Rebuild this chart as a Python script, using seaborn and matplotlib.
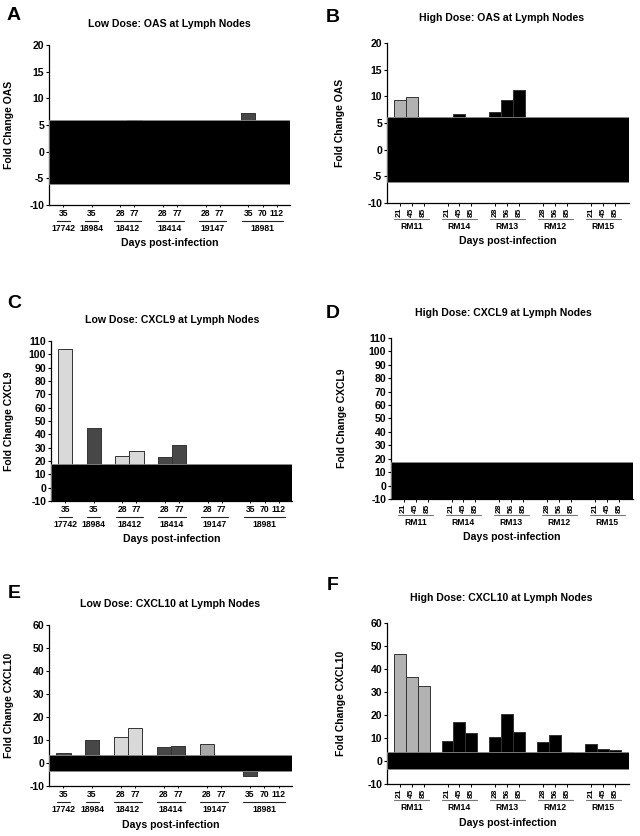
import pandas as pd
import matplotlib
matplotlib.use("Agg")
import matplotlib.pyplot as plt
import matplotlib.transforms as mtransforms
import seaborn as sns

sns.set_theme(style="ticks")
plt.rcParams["font.family"] = ["Liberation Sans", "DejaVu Sans"]
plt.rcParams["font.weight"] = "bold"
for k in ["text.color", "axes.labelcolor", "xtick.color", "ytick.color", "axes.edgecolor"]:
    plt.rcParams[k] = "black"

# animals and sampling days
low_animals = ["17742", "18984", "18412", "18414", "19147", "18981"]
low_days = [["35"], ["35"], ["28", "77"], ["28", "77"], ["28", "77"], ["35", "70", "112"]]
high_animals = ["RM11", "RM14", "RM13", "RM12", "RM15"]
high_days = [["21", "45", "85"], ["21", "45", "85"], ["28", "56", "85"],
             ["28", "56", "85"], ["21", "45", "85"]]

# fold change values (bars under the black band are not readable, rough guesses)
oas_low = [[3.0], [2.5], [5.5, 6.0], [4.0, 3.5], [2.0, 3.0], [7.3, 4.0, 2.5]]
oas_high = [[9.4, 9.9, 4.5], [5.0, 6.7, 4.0], [7.0, 9.4, 11.1], [3.0, 2.5, 2.0], [2.0, 3.0, 2.5]]
cxcl9_low = [[103.8], [44.5], [23.7, 27.7], [22.7, 32.3], [5.0, 4.0], [3.0, 2.0, 2.0]]
cxcl9_high = [[8.0, 6.0, 5.0], [4.0, 5.0, 3.0], [6.0, 7.0, 4.0], [3.0, 4.0, 2.0], [2.0, 3.0, 2.0]]
cxcl10_low = [[4.2], [10.0], [11.2, 15.1], [7.1, 7.4], [8.3, 2.0], [-5.6, 1.5, 1.0]]
cxcl10_high = [[46.4, 36.4, 32.4], [8.9, 16.8, 12.0], [10.3, 20.3, 12.5],
               [8.4, 11.2, 3.9], [7.3, 5.4, 4.6]]

# "no change" band drawn over the bars
oas_low_band = (-6.0, 6.0)
oas_high_band = (-6.1, 6.2)
cxcl9_band = (-10, 17.7)
cxcl10_low_band = (-3.6, 3.6)
cxcl10_high_band = (-3.6, 3.7)

dark, light, mid = "#474747", "#d9d9d9", "#a9a9a9"
pal_oas_low = {"17742": dark, "18984": dark, "18412": light, "18414": dark, "19147": mid, "18981": dark}
pal_cxcl9_low = {"17742": light, "18984": dark, "18412": light, "18414": dark, "19147": mid, "18981": dark}
pal_cxcl10_low = pal_oas_low
pal_high = {"RM11": "#b2b2b2", "RM14": "black", "RM13": "black", "RM12": "black", "RM15": "black"}

W, H = 640, 836
fig = plt.figure(figsize=(W / 100, H / 100), dpi=100)


def px(x, y):
    return x / W, 1 - y / H


def make_df(animals, days, values):
    rows = []
    order = []
    for i, (a, ds, vs) in enumerate(zip(animals, days, values)):
        for d, v in zip(ds, vs):
            rows.append({"slot": a + "|" + d, "animal": a, "day": d, "value": v})
            order.append(a + "|" + d)
        if i < len(animals) - 1:
            order.append("gap%d" % i)
    return pd.DataFrame(rows), order


def panel(rect, animals, days, values, pal, band, ylim, ystep, ylabel, ylab_px, high):
    l, t, r, b = rect
    ax = fig.add_axes([l / W, 1 - b / H, (r - l) / W, (b - t) / H])
    df, order = make_df(animals, days, values)
    sns.barplot(data=df, x="slot", y="value", hue="animal", order=order, hue_order=animals,
                palette=pal, dodge=False, width=1.0, errorbar=None, edgecolor="#333333",
                linewidth=0.7, legend=False, ax=ax)
    ax.axhspan(band[0], band[1], facecolor="black", edgecolor="#8a8a8a", lw=0.6, zorder=3)

    pos = [order.index(s) for s in df["slot"]]
    ax.set_xticks(pos)
    if high:
        ax.set_xticklabels(df["day"], rotation=90, fontsize=6.0, fontweight="bold")
        ax.tick_params(axis="x", length=2.5, width=0.7, pad=1)
        ax.set_xlim(-1.05, len(order) + 0.15)
        line_col = "#777777"
    else:
        ax.set_xticklabels(df["day"], fontsize=6.2, fontweight="bold")
        ax.tick_params(axis="x", length=1.5, width=0.7, pad=1.5)
        ax.set_xlim(-1.0, len(order) - 0.07)
        line_col = "#222222"
    ax.set_xlabel("")

    ax.set_ylim(*ylim)
    ax.set_yticks(range(ylim[0], ylim[1] + 1, ystep))
    ax.set_yticklabels([str(v) for v in range(ylim[0], ylim[1] + 1, ystep)],
                       fontsize=7.6, fontweight="bold")
    ax.tick_params(axis="y", length=2.5, width=0.8, pad=1)
    ax.set_ylabel(ylabel, fontsize=7.5, fontweight="bold")
    ax.yaxis.set_label_coords(-ylab_px / (r - l), 0.5)

    sns.despine(ax=ax)
    for s in ["left", "bottom"]:
        ax.spines[s].set_linewidth(0.9)
        ax.spines[s].set_color("black")

    hpx = b - t
    trans = mtransforms.blended_transform_factory(ax.transData, ax.transAxes)
    for a in animals:
        idx = [order.index(s) for s in df.loc[df["animal"] == a, "slot"]]
        ax.plot([min(idx) - 0.45, max(idx) + 0.45], [-15.5 / hpx] * 2, transform=trans,
                color=line_col, lw=0.8, clip_on=False)
        ax.text((min(idx) + max(idx)) / 2, -23.5 / hpx, a, transform=trans, ha="center",
                va="center", fontsize=6.2, fontweight="bold")
    ax.text(0.5, -38.5 / hpx, "Days post-infection", transform=ax.transAxes, ha="center",
            va="center", fontsize=7.6, fontweight="bold")
    return ax


panel((49, 45, 290, 205), low_animals, low_days, oas_low, pal_oas_low, oas_low_band,
      (-10, 20), 5, "Fold Change OAS", 35, False)
panel((387, 43, 629, 203), high_animals, high_days, oas_high, pal_high, oas_high_band,
      (-10, 20), 5, "Fold Change OAS", 42, True)
panel((51, 341, 292, 501), low_animals, low_days, cxcl9_low, pal_cxcl9_low, cxcl9_band,
      (-10, 110), 10, "Fold Change CXCL9", 37, False)
panel((391, 338, 633, 499), high_animals, high_days, cxcl9_high, pal_high, cxcl9_band,
      (-10, 110), 10, "Fold Change CXCL9", 44, True)
panel((49, 625, 292, 786), low_animals, low_days, cxcl10_low, pal_cxcl10_low, cxcl10_low_band,
      (-10, 60), 10, "Fold Change CXCL10", 35, False)
panel((387, 623, 629, 784), high_animals, high_days, cxcl10_high, pal_high, cxcl10_high_band,
      (-10, 60), 10, "Fold Change CXCL10", 41, True)

titles = [("Low Dose: OAS at Lymph Nodes", 169, 24), ("High Dose: OAS at Lymph Nodes", 502, 18),
          ("Low Dose: CXCL9 at Lymph Nodes", 172, 320), ("High Dose: CXCL9 at Lymph Nodes", 503, 313),
          ("Low Dose: CXCL10 at Lymph Nodes", 170, 604), ("High Dose: CXCL10 at Lymph Nodes", 501, 598)]
for txt, x, y in titles:
    fig.text(*px(x, y), txt, ha="center", va="center", fontsize=7.6, fontweight="bold")

letters = [("A", 14, 15), ("B", 333, 17), ("C", 14, 304), ("D", 333, 313), ("E", 14, 594), ("F", 333, 586)]
for txt, x, y in letters:
    fig.text(*px(x, y), txt, ha="center", va="center", fontsize=14, fontweight="bold")

fig.savefig("out.png", dpi=100, facecolor="white")
